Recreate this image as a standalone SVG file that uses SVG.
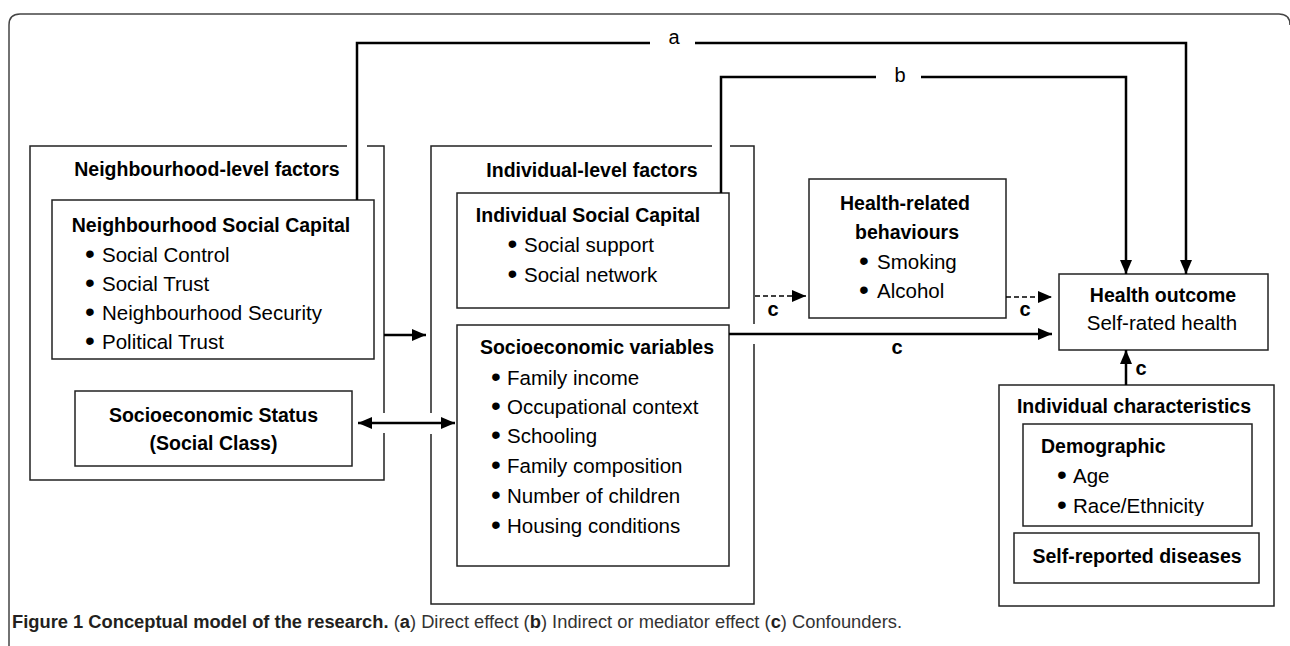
<svg xmlns="http://www.w3.org/2000/svg" width="1290" height="646" viewBox="0 0 1290 646">
<defs>
<style>
.box{fill:none;stroke:#222;stroke-width:1.5}
.frame{fill:none;stroke:#444;stroke-width:1.5}
.ln{fill:none;stroke:#000;stroke-width:2.5;stroke-linejoin:miter}
.dl{fill:none;stroke:#000;stroke-width:1.5;stroke-dasharray:5 3}
text{font-family:"Liberation Sans",Arial,sans-serif;fill:#000}
.t{font-size:19.5px;font-weight:bold}
.r{font-size:20.5px}
.bl{font-size:28px}
.lab{font-size:20px}
.c{font-size:20px;font-weight:bold}
.m{text-anchor:middle}
.cap{font-size:18px;fill:#333}
.capb{font-weight:bold;fill:#231f20}
</style>
<marker id="ah" markerUnits="userSpaceOnUse" markerWidth="16" markerHeight="14" refX="14" refY="6" orient="auto-start-reverse">
<path d="M0,0 L14,6 L0,12 Z" fill="#000"/>
</marker>
<clipPath id="clipRace"><rect x="1023" y="424" width="229" height="92"/></clipPath>
</defs>

<path class="frame" d="M9,646 V25 Q9,14 20,14 H1279 Q1290,14 1290,25"/>

<g id="neighbourhood-level">
<path class="box" d="M347,146 H30 V480 H384 V433 M384,413 V146 H367"/>
<text class="t m" x="207" y="176">Neighbourhood-level factors</text>
</g>

<g id="neighbourhood-social-capital">
<rect class="box" x="52" y="200" width="322" height="159"/>
<text class="t m" x="211" y="232">Neighbourhood Social Capital</text>
<text class="r" x="85" y="263"><tspan class="bl">•</tspan><tspan x="102" y="262">Social Control</tspan></text>
<text class="r" x="85" y="292"><tspan class="bl">•</tspan><tspan x="102" y="291">Social Trust</tspan></text>
<text class="r" x="85" y="321"><tspan class="bl">•</tspan><tspan x="102" y="320">Neighbourhood Security</tspan></text>
<text class="r" x="85" y="350"><tspan class="bl">•</tspan><tspan x="102" y="349">Political Trust</tspan></text>
</g>

<g id="socioeconomic-status">
<rect class="box" x="75" y="391" width="277" height="75"/>
<text class="t m" x="213.5" y="422">Socioeconomic Status</text>
<text class="t m" x="213.5" y="450">(Social Class)</text>
</g>

<g id="individual-level">
<path class="box" d="M712,146 H431 V413 M431,434 V604 H754 V344 M754,324 V146 H730"/>
<text class="t m" x="592" y="177">Individual-level factors</text>
</g>

<g id="individual-social-capital">
<rect class="box" x="457" y="193" width="272" height="115"/>
<text class="t m" x="588" y="222">Individual Social Capital</text>
<text class="r" x="507.5" y="253"><tspan class="bl">•</tspan><tspan x="524" y="252">Social support</tspan></text>
<text class="r" x="507.5" y="283"><tspan class="bl">•</tspan><tspan x="524" y="282">Social network</tspan></text>
</g>

<g id="socioeconomic-variables">
<rect class="box" x="457" y="325" width="272" height="241"/>
<text class="t m" x="597" y="354">Socioeconomic variables</text>
<text class="r" x="491" y="386"><tspan class="bl">•</tspan><tspan x="507" y="385">Family income</tspan></text>
<text class="r" x="491" y="415"><tspan class="bl">•</tspan><tspan x="507" y="414">Occupational context</tspan></text>
<text class="r" x="491" y="444"><tspan class="bl">•</tspan><tspan x="507" y="443">Schooling</tspan></text>
<text class="r" x="491" y="474"><tspan class="bl">•</tspan><tspan x="507" y="473">Family composition</tspan></text>
<text class="r" x="491" y="504"><tspan class="bl">•</tspan><tspan x="507" y="503">Number of children</tspan></text>
<text class="r" x="491" y="534"><tspan class="bl">•</tspan><tspan x="507" y="533">Housing conditions</tspan></text>
</g>

<g id="health-behaviours">
<rect class="box" x="809" y="179" width="197" height="139"/>
<text class="t m" x="905" y="210">Health-related</text>
<text class="t m" x="907" y="239">behaviours</text>
<text class="r" x="859" y="270"><tspan class="bl">•</tspan><tspan x="877" y="269">Smoking</tspan></text>
<text class="r" x="859" y="299"><tspan class="bl">•</tspan><tspan x="877" y="298">Alcohol</tspan></text>
</g>

<g id="health-outcome">
<rect class="box" x="1059" y="274" width="209" height="76"/>
<text class="t m" x="1163" y="302">Health outcome</text>
<text class="r m" x="1162" y="330">Self-rated health</text>
</g>

<g id="individual-characteristics">
<rect class="box" x="999" y="385" width="275" height="221"/>
<text class="t m" x="1134" y="413">Individual characteristics</text>
</g>

<g id="demographic">
<rect class="box" x="1023" y="424" width="229" height="102"/>
<text class="t" x="1041" y="453">Demographic</text>
<text class="r" x="1057" y="484"><tspan class="bl">•</tspan><tspan x="1073" y="483">Age</tspan></text>
<text class="r" x="1057" y="514" clip-path="url(#clipRace)"><tspan class="bl">•</tspan><tspan x="1073" y="513">Race/Ethnicity</tspan></text>
</g>

<g id="self-reported-diseases">
<rect class="box" x="1014" y="533" width="245" height="50"/>
<text class="t m" x="1137" y="563">Self-reported diseases</text>
</g>

<g id="connectors">
<path class="ln" d="M357,200 V43 H650"/>
<path class="ln" d="M695,43 H1186 V274" marker-end="url(#ah)"/>
<text class="lab m" x="674" y="44">a</text>
<path class="ln" d="M721,193 V77 H876"/>
<path class="ln" d="M921,77 H1126 V274" marker-end="url(#ah)"/>
<text class="lab m" x="900" y="82">b</text>
<path class="ln" d="M384,335 H426" marker-end="url(#ah)"/>
<path class="ln" d="M358,423 H455" marker-start="url(#ah)" marker-end="url(#ah)"/>
<path class="dl" d="M755,296 H806" marker-end="url(#ah)"/>
<text class="c m" x="773" y="316">c</text>
<path class="dl" d="M1006,297 H1052" marker-end="url(#ah)"/>
<text class="c m" x="1025" y="316">c</text>
<path class="ln" d="M729,334 H1052" marker-end="url(#ah)"/>
<text class="c m" x="897" y="354">c</text>
<path class="ln" d="M1126,385 V350" marker-end="url(#ah)"/>
<text class="c m" x="1141" y="375">c</text>
</g>

<text class="cap" x="12" y="628" textLength="890" lengthAdjust="spacingAndGlyphs"><tspan class="capb">Figure 1 Conceptual model of the research.</tspan> (<tspan class="capb">a</tspan>) Direct effect (<tspan class="capb">b</tspan>) Indirect or mediator effect (<tspan class="capb">c</tspan>) Confounders.</text>
</svg>
